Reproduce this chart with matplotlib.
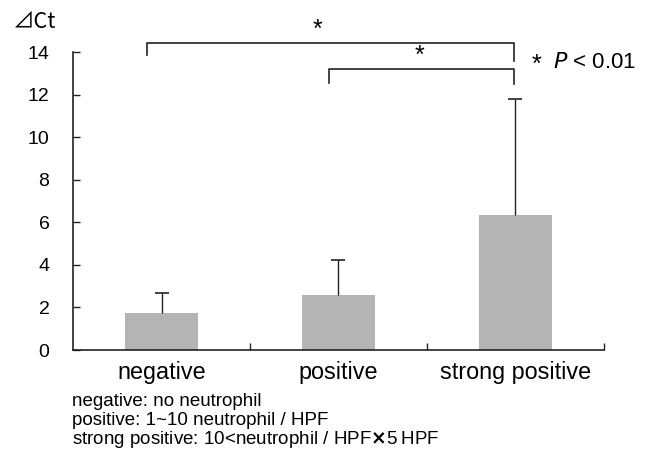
import matplotlib
matplotlib.use('Agg')
import matplotlib.pyplot as plt

# data
categories = ['negative', 'positive', 'strong positive']
means = [1.72, 2.58, 6.35]
sd_upper = [0.95, 1.65, 5.45]
y_ticks = [0, 2, 4, 6, 8, 10, 12, 14]
notes = ['negative: no neutrophil',
         'positive: 1~10 neutrophil / HPF',
         'strong positive: 10<neutrophil / HPF$\\mathbf{\\times}$5\u2009HPF']

plt.rcParams['font.family'] = ['Liberation Sans', 'DejaVu Sans']

fig = plt.figure(figsize=(6.55, 4.57), dpi=100)
ax = fig.add_axes([0.1115, 0.234, 0.8105, 0.652])

x = list(range(len(categories)))
ax.bar(x, means, width=0.41, color='#b4b4b4', zorder=2)
# only upward error bars, cap at the top only
ax.errorbar(x, means, yerr=[[0] * len(means), sd_upper], fmt='none',
            ecolor='#222222', elinewidth=1.0, capsize=0, zorder=3)
tops = [m + s for m, s in zip(means, sd_upper)]
ax.plot(x, tops, ls='none', marker='_', ms=10, mew=1.2, color='#222222', zorder=3)

ax.set_xlim(-0.5, 2.5)
ax.set_ylim(0, 14)
ax.set_yticks(y_ticks)
ax.set_yticklabels([str(v) for v in y_ticks], fontsize=14)
ax.set_xticks([0.5, 1.5, 2.5])
ax.set_xticklabels([])
ax.tick_params(axis='both', direction='in', length=5, width=1.0, colors='#222222')
ax.tick_params(axis='y', labelcolor='black', pad=17)
for i, c in enumerate(categories):
    ax.text(i, -0.5, c, ha='center', va='top', fontsize=16.8)

for s in ['top', 'right']:
    ax.spines[s].set_visible(False)
for s in ['left', 'bottom']:
    ax.spines[s].set_linewidth(1.2)
    ax.spines[s].set_color('#222222')

# significance brackets
kw = dict(color='#222222', lw=1.2, clip_on=False)
ax.plot([-0.08, -0.08, 1.99, 1.99], [13.85, 14.45, 14.45, 13.6], **kw)
ax.plot([0.945, 0.945, 1.99, 1.99], [12.55, 13.2, 13.2, 12.5], **kw)
ax.text(0.88, 14.5, '*', ha='center', va='bottom', fontsize=18)
ax.text(1.46, 13.25, '*', ha='center', va='bottom', fontsize=18)

fig.text(0.812, 0.858, '*', fontsize=18, ha='left', va='center')
fig.text(0.845, 0.864, '$\\it{P}$ < 0.01', fontsize=16, ha='left', va='center')
# y label in a Japanese font (full-width triangle)
fig.text(0.02, 0.952, '\u22bfCt', fontsize=15.5, ha='left', va='center',
         family=['Noto Sans CJK JP', 'DejaVu Sans'])

for k, line in enumerate(notes):
    fig.text(0.11, 0.122 - k * 0.0415, line, fontsize=13.5, ha='left', va='center')

fig.savefig('out.png', dpi=100)
